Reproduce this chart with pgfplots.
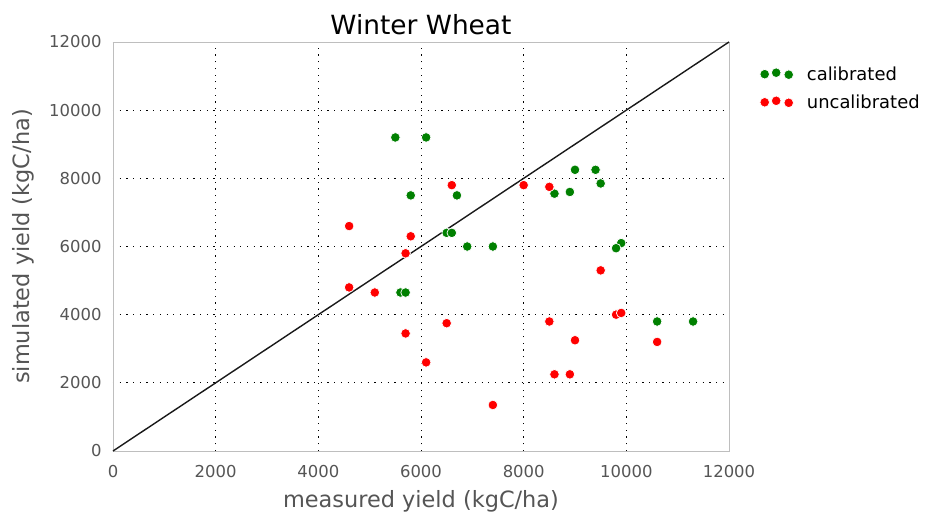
\documentclass[border=0pt]{standalone}
\usepackage{pgfplots}
\pgfplotsset{compat=1.18}
\usepackage{fontspec}
\setmainfont{DejaVu Sans}
\definecolor{mplgreen}{RGB}{0,128,0}
\definecolor{mplred}{RGB}{255,0,0}
\definecolor{labgray}{RGB}{85,85,85}
\definecolor{framegray}{RGB}{190,190,190}
\begin{document}
\begin{tikzpicture}
\useasboundingbox (-113bp,-68bp) rectangle (813bp,451bp);
\begin{axis}[
  at={(0,0)}, anchor=south west,
  scale only axis, width=616bp, height=409bp,
  xmin=0, xmax=12000, ymin=0, ymax=12000,
  xtick={0,2000,...,12000}, ytick={0,2000,...,12000},
  scaled ticks=false,
  /pgf/number format/assume math mode=true,
  /pgf/number format/1000 sep={},
  tick label style={font=\fontsize{16.5}{18}\selectfont, text=labgray},
  xticklabel style={yshift=-11bp},
  yticklabel style={xshift=-8bp},
  major tick length=0pt,
  axis line style={framegray, line width=0.9bp},
  grid=major,
  major grid style={black, line width=0.7bp, dash pattern=on 1.2bp off 5.5bp},
  xlabel={measured yield (kgC/ha)},
  ylabel={simulated yield (kgC/ha)},
  label style={font=\fontsize{22.5}{26}\selectfont, text=labgray},
  xlabel style={yshift=-6bp},
  ylabel style={yshift=8bp},
  title={Winter Wheat},
  title style={font=\fontsize{26.5}{30}\selectfont, yshift=-2bp},
  legend style={at={(1.045,0.95)}, anchor=north west, draw=none, fill=none,
    font=\fontsize{18}{21}\selectfont, row sep=9bp},
  legend cell align=left,
  clip=false,
]
\addplot[black!90, line width=1.4bp, forget plot] coordinates {(0,0) (12000,12000)};
\addplot[only marks, mark=*, mark size=4.8bp, mark options={fill=mplgreen, draw=white, line width=0.7bp},
  legend image code/.code={
    \draw plot[mark=*, mark size=4.8bp, mark options={fill=mplgreen, draw=white, line width=0.7bp}] coordinates {(0bp,0bp) (11.5bp,1.5bp) (24bp,-0.5bp)};
    \path (40bp,0bp);
  }] coordinates {
  (5500,9200) (6100,9200) (5800,7500) (6700,7500) (6500,6400) (6600,6400)
  (6900,6000) (7400,6000) (8600,7550) (8900,7600) (9000,8250) (9400,8250)
  (9500,7850) (9900,6100) (9800,5950) (10600,3800) (11300,3800) (5600,4650)
  (5700,4650)
};
\addlegendentry{calibrated}
\addplot[only marks, mark=*, mark size=4.8bp, mark options={fill=mplred, draw=white, line width=0.7bp},
  legend image code/.code={
    \draw plot[mark=*, mark size=4.8bp, mark options={fill=mplred, draw=white, line width=0.7bp}] coordinates {(0bp,0bp) (11.5bp,1.5bp) (24bp,-0.5bp)};
    \path (40bp,0bp);
  }] coordinates {
  (6600,7800) (4600,6600) (5800,6300) (5700,5800) (8000,7800) (8500,7750)
  (9500,5300) (9800,4000) (9900,4050) (10600,3200) (9000,3250) (8900,2250)
  (4600,4800) (5100,4650) (6500,3750) (5700,3450) (6100,2600) (8500,3800)
  (8600,2250) (7400,1350)
};
\addlegendentry{uncalibrated}
\end{axis}
\end{tikzpicture}
\end{document}
